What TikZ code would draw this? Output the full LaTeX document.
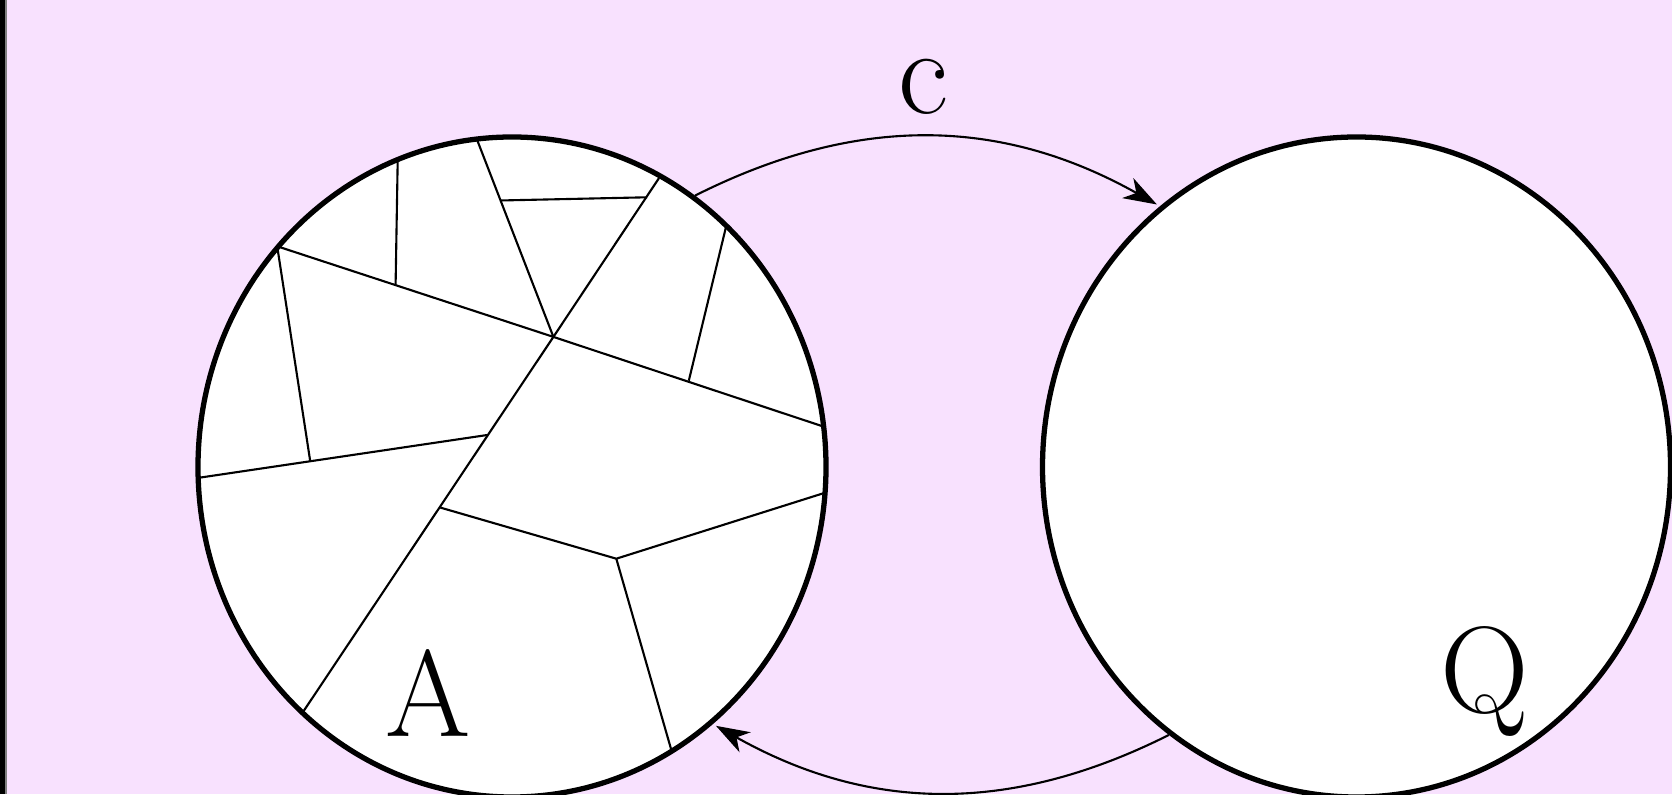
\documentclass[tikz,border=0pt]{standalone}
\usepackage{fontspec}
\usetikzlibrary{arrows.meta,shapes.geometric}
\definecolor{lilac}{RGB}{248,225,254}
\newcommand{\biglabel}{\fontsize{35}{42}\selectfont}
\begin{document}
\begin{tikzpicture}[
    region/.style={ellipse,draw,fill=white,line width=1.5pt,inner sep=0pt,
                   minimum width=6.28cm,minimum height=6.6cm},
    cell/.style={line width=0.6pt},
    link/.style={line width=0.6pt,-{Stealth[length=9.5pt,width=6.5pt,inset=2.8pt]},shorten >=1pt},
    lbl/.style={anchor=base,font=\biglabel}]
  \useasboundingbox (0,0) rectangle (16.72,7.94);
  \fill[lilac] (0,0) rectangle (16.72,7.94);
  \fill[black] (0,0) rectangle (0.05,7.94);
  \fill[gray] (0.05,0) rectangle (0.07,7.94);
  % the two regions
  \node[region] (A) at (5.12,3.27) {};
  \node[region] (Q) at (13.565,3.27) {};
  % partition of A
  \coordinate (hub) at (5.534,4.571);
  \draw[cell] (4.766,6.554) -- (hub);
  \draw[cell] (2.772,5.477) -- (hub) -- (8.232,3.675);
  \draw[cell] (6.590,6.159) -- (hub) -- (3.028,0.817);
  \draw[cell] (5.001,5.935) -- (6.472,5.967);
  \draw[cell] (3.977,6.341) -- (3.956,5.093);
  \draw[cell] (2.772,5.477) -- (3.103,3.323);
  \draw[cell] (1.994,3.163) -- (4.873,3.590);
  \draw[cell] (7.262,5.679) -- (6.888,4.133);
  \draw[cell] (4.404,2.864) -- (6.163,2.353) -- (8.255,3.014);
  \draw[cell] (6.163,2.353) -- (6.718,0.423);
  % labels
  \node[lbl] (la) at (4.28,0.58) {A};
  \node[lbl] (lq) at (14.85,0.81) {Q};
  \node[lbl] (lc) at (9.23,6.80) {c};
  % maps
  \draw[link] (A.56) to[bend left=28] (Q.127);
  \draw[link] (Q.235) to[bend left=28] (A.-52);
\end{tikzpicture}
\end{document}
